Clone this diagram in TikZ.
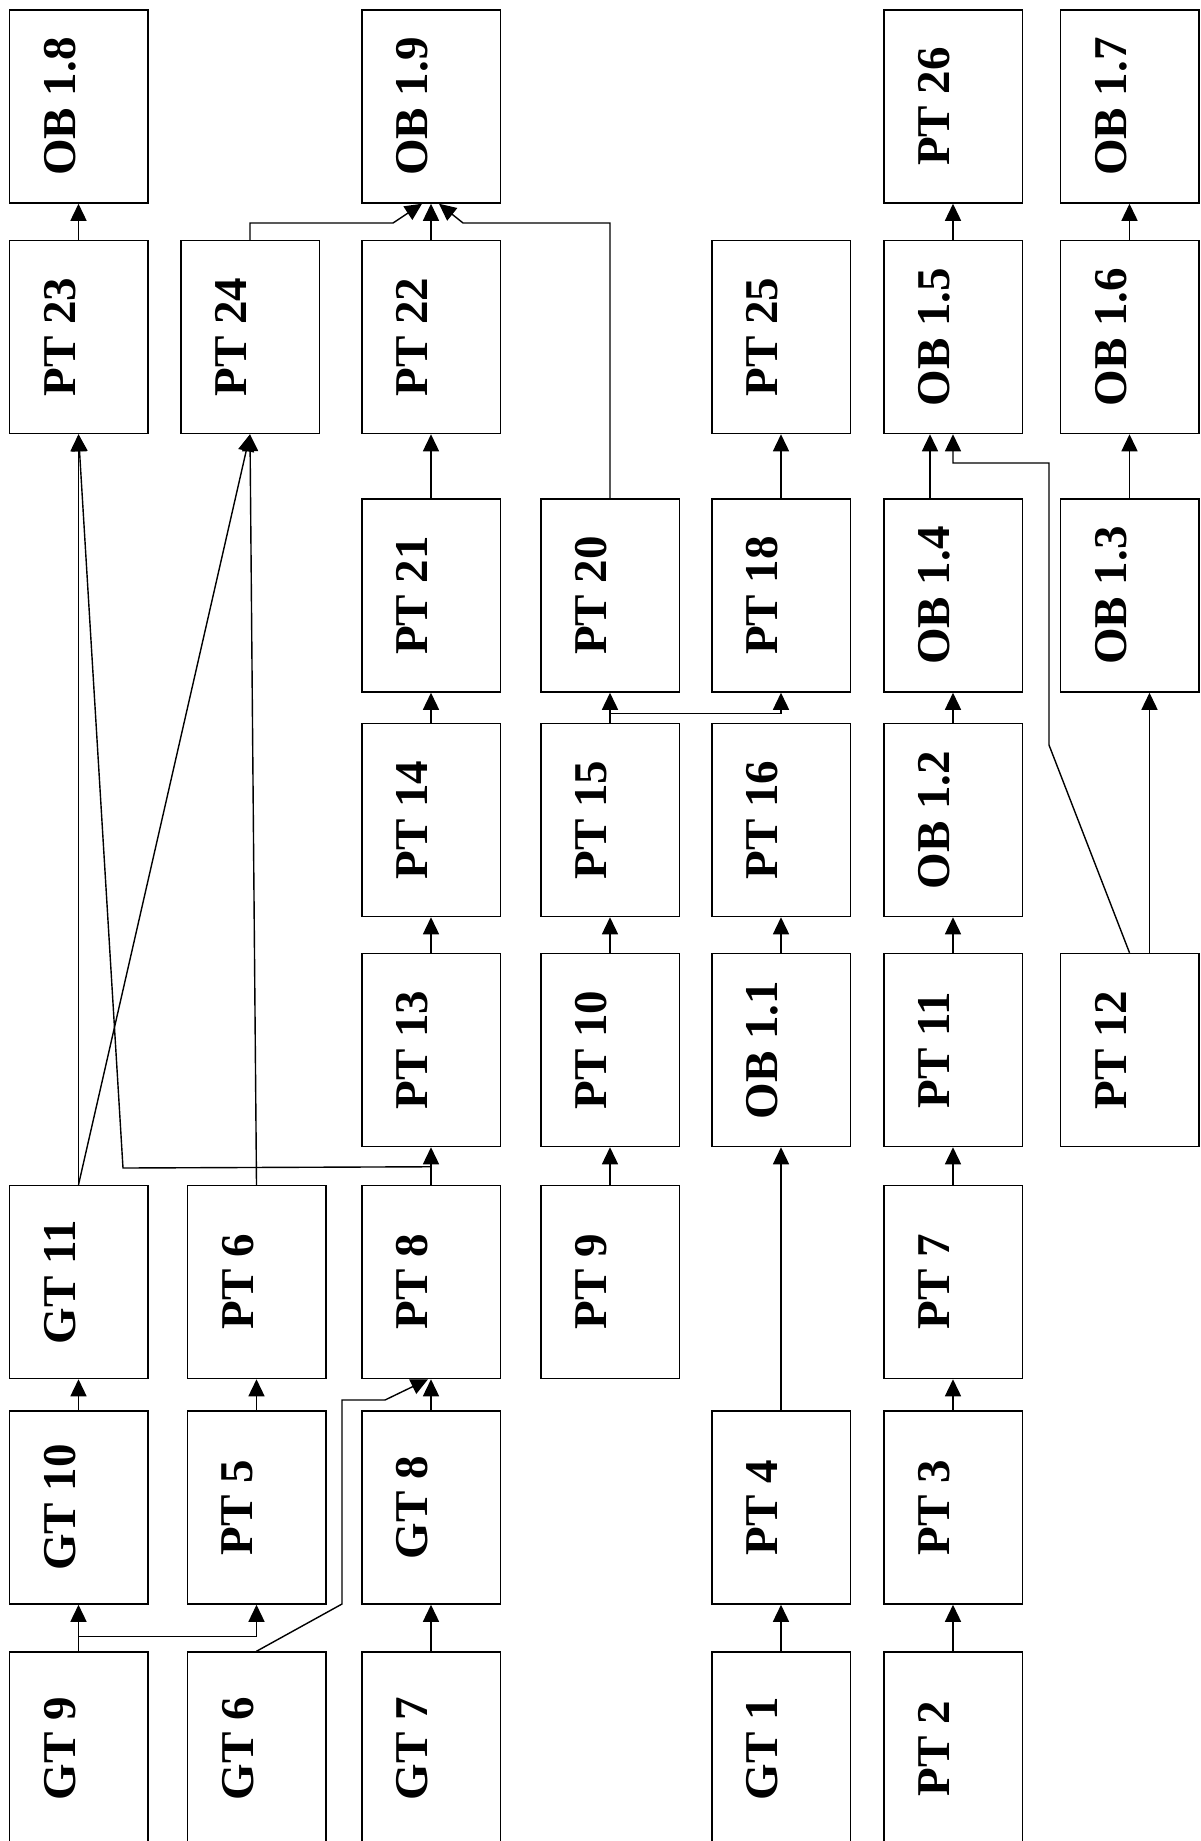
\documentclass[tikz,border=0pt]{standalone}
\usepackage{graphicx}
\usepackage{fontspec}
\setmainfont{Liberation Serif}
\usetikzlibrary{arrows.meta}

% rotated label, raised a little inside its box
\newcommand{\boxtext}[1]{\rotatebox{90}{\rule[-19pt]{0pt}{19pt}#1}}

\begin{document}
\begin{tikzpicture}[
    x=0.5pt, y=-0.5pt,
    blk/.style={draw, line width=0.75pt, inner sep=0pt,
        minimum width=69.25pt, minimum height=96.5pt,
        font=\fontsize{23.5pt}{28pt}\selectfont\bfseries},
    arr/.style={-{Triangle[length=8.5pt,width=8pt]}, line width=0.7pt},
]
\useasboundingbox (0,0) rectangle (1200,1841);

% ---------------- boxes, top row first
\foreach \n/\x/\y/\t in {ob18/78.5/106.5/OB 1.8, ob19/431/106.5/OB 1.9,
    pt26/953/106.5/PT 26, ob17/1129.5/106.5/OB 1.7}
    \node[blk] (\n) at (\x,\y) {\boxtext{\t}};
\foreach \n/\x/\y/\t in {pt23/78.5/337/PT 23, pt24/250/337/PT 24,
    pt22/431/337/PT 22, pt25/781/337/PT 25, ob15/953/337/OB 1.5,
    ob16/1129.5/337/OB 1.6}
    \node[blk] (\n) at (\x,\y) {\boxtext{\t}};
\foreach \n/\x/\y/\t in {pt21/431/595.5/PT 21, pt20/610/595.5/PT 20,
    pt18/781/595.5/PT 18, ob14/953/595.5/OB 1.4, ob13/1129.5/595.5/OB 1.3}
    \node[blk] (\n) at (\x,\y) {\boxtext{\t}};
\foreach \n/\x/\y/\t in {pt14/431/820/PT 14, pt15/610/820/PT 15,
    pt16/781/820/PT 16, ob12/953/820/OB 1.2}
    \node[blk] (\n) at (\x,\y) {\boxtext{\t}};
\foreach \n/\x/\y/\t in {pt13/431/1050/PT 13, pt10/610/1050/PT 10,
    ob11/781/1050/OB 1.1, pt11/953/1050/PT 11, pt12/1129.5/1050/PT 12}
    \node[blk] (\n) at (\x,\y) {\boxtext{\t}};
\foreach \n/\x/\y/\t in {gt11/78.5/1282/GT 11, pt6/256.5/1282/PT 6,
    pt8/431/1282/PT 8, pt9/610/1282/PT 9, pt7/953/1282/PT 7}
    \node[blk] (\n) at (\x,\y) {\boxtext{\t}};
\foreach \n/\x/\y/\t in {gt10/78.5/1507.5/GT 10, pt5/256.5/1507.5/PT 5,
    gt8/431/1507.5/GT 8, pt4/781/1507.5/PT 4, pt3/953/1507.5/PT 3}
    \node[blk] (\n) at (\x,\y) {\boxtext{\t}};
\foreach \n/\x/\y/\t in {gt9/78.5/1748.5/GT 9, gt6/256.5/1748.5/GT 6,
    gt7/431/1748.5/GT 7, gt1/781/1748.5/GT 1, pt2/953/1748.5/PT 2}
    \node[blk] (\n) at (\x,\y) {\boxtext{\t}};

% ---------------- straight links
\foreach \a/\b in {pt23/ob18, pt22/ob19, pt21/pt22, pt18/pt25, ob15/pt26,
    ob16/ob17, ob13/ob16, ob12/ob14, pt11/ob12, pt7/pt11, pt3/pt7, pt2/pt3,
    gt1/pt4, pt4/ob11, ob11/pt16, pt15/pt20, pt10/pt15, pt9/pt10,
    pt14/pt21, pt13/pt14, pt8/pt13, gt11/pt23, gt10/gt11, pt5/pt6,
    gt8/pt8, gt9/gt10, gt7/gt8}
    \draw[arr] (\a) -- (\b);

% ---------------- bent and slanted links
\draw[arr] (pt24.north) |- (393,223) -- ([xshift=-4.5pt]ob19.south);
\draw[arr] (pt20.north) |- (463,223) -- ([xshift=4pt]ob19.south);
\draw[arr] ([xshift=-11.5pt]ob14.north) -- ([xshift=-11.5pt]ob15.south);
\draw[arr] (pt12.north) -- (1049,745) -- (1049,463) -| (ob15.south);
\draw[arr] ([xshift=10pt]pt12.north) -- ([xshift=10pt]ob13.south);
\draw[arr] (pt15.north) -- ++(0,-9) -| (pt18.south);
\draw[arr] (pt8.north) -- ++(0,-18) -- (123,1168) -- (pt23.south);
\draw[arr] (gt11.north) -- (pt24.south);
\draw[arr] (pt6.north) -- (pt24.south);
\draw[arr] (gt9.north) -- ++(0,-15) -| (pt5.south);
\draw[arr] (gt6.north) -- (342,1604) -- (342,1400) -- (385,1400)
    -- ([xshift=-1.5pt]pt8.south);

\end{tikzpicture}
\end{document}
